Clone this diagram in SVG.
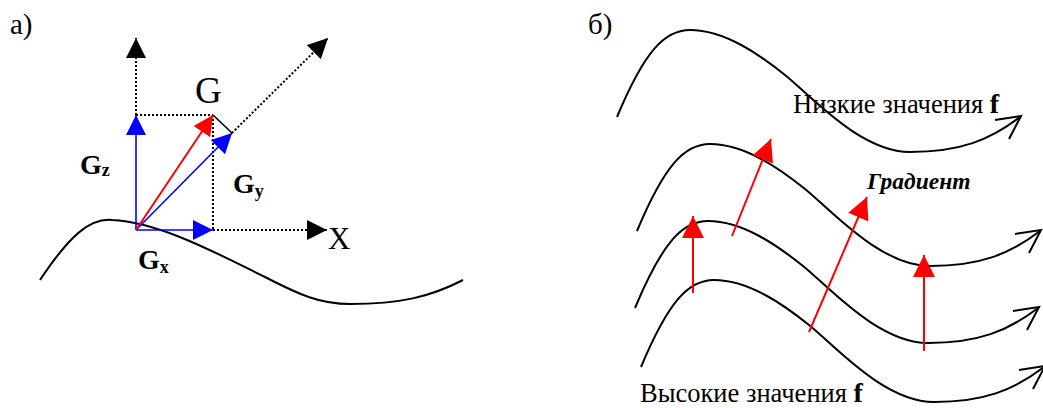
<svg xmlns="http://www.w3.org/2000/svg" width="1043" height="408" viewBox="0 0 1043 408">
<style>
.t{font-family:'Liberation Serif','Times New Roman','DejaVu Serif',serif;fill:#000}
.lbl{font-size:29px}
.bold{font-weight:bold}
.curve{fill:none;stroke:#000;stroke-width:2}
.dot{fill:none;stroke:#000;stroke-width:2;stroke-dasharray:2 2}
.blue{fill:none;stroke:#0000ff;stroke-width:1.6}
.red{fill:none;stroke:#ff0000;stroke-width:2}
.open{fill:none;stroke:#000;stroke-width:2;stroke-linejoin:miter}
</style>
<defs>
<marker id="hb" markerUnits="userSpaceOnUse" markerWidth="20" markerHeight="20" refX="20" refY="10" orient="auto" viewBox="0 0 20 20"><path d="M0,0L20,10L0,20z" fill="#0000ff"/></marker>
<marker id="hr" markerUnits="userSpaceOnUse" markerWidth="20" markerHeight="20" refX="20" refY="10" orient="auto" viewBox="0 0 20 20"><path d="M0,0L20,10L0,20z" fill="#ff0000"/></marker>
<marker id="hk" markerUnits="userSpaceOnUse" markerWidth="20" markerHeight="20" refX="20" refY="10" orient="auto" viewBox="0 0 20 20"><path d="M0,0L20,10L0,20z" fill="#000"/></marker>
<marker id="hr2" markerUnits="userSpaceOnUse" markerWidth="22" markerHeight="22" refX="22" refY="11" orient="auto" viewBox="0 0 22 22"><path d="M0,0L22,11L0,22z" fill="#ff0000"/></marker>
<path id="wave" d="M617,117 C645,50 665,30 690,30 C725,30 760,55 785,75 S860,152 910,152 S990,140 1020,117"/>
</defs>

<!-- Panel a -->
<g id="panel-a">
  <text id="label-a" class="t lbl" x="10" y="34">а)</text>
  <path id="surface-a" class="curve" d="M40,280 C70,235 90,218 112,220 C160,222 220,255 265,277 C300,295 320,304 350,304 C400,304 430,297 463,280"/>
  <g id="connectors-a">
    <line class="dot" x1="136" y1="115" x2="136" y2="38" marker-end="url(#hk)"/>
    <line class="dot" x1="213" y1="230" x2="327" y2="230" marker-end="url(#hk)"/>
    <line class="dot" x1="232" y1="133" x2="328" y2="38" marker-end="url(#hk)"/>
    <line class="dot" x1="136" y1="115" x2="213" y2="115"/>
    <line class="dot" x1="213" y1="115" x2="213" y2="230"/>
    <line x1="213" y1="115" x2="232" y2="133" stroke="#000" stroke-width="1.6"/>
    <line class="blue" x1="136" y1="230" x2="136" y2="115" marker-end="url(#hb)"/>
    <line class="blue" x1="136" y1="230" x2="213" y2="230" marker-end="url(#hb)"/>
    <line class="blue" x1="136" y1="230" x2="232" y2="133" marker-end="url(#hb)"/>
    <line class="red" x1="136" y1="230" x2="213" y2="115" marker-end="url(#hr)"/>
  </g>
  <g id="node-G"><text class="t" x="195" y="103" font-size="37">G</text></g>
  <g id="node-X"><text class="t" x="328" y="249" font-size="31">X</text></g>
  <g id="node-Gz"><text class="t bold" x="80" y="174" font-size="28">G<tspan font-size="18" dy="2">z</tspan></text></g>
  <g id="node-Gy"><text class="t bold" x="233" y="193" font-size="28">G<tspan font-size="18" dy="4">y</tspan></text></g>
  <g id="node-Gx"><text class="t bold" x="138" y="269" font-size="28">G<tspan font-size="18" dy="4">x</tspan></text></g>
</g>

<!-- Panel b -->
<g id="panel-b">
  <text id="label-b" class="t lbl" x="588" y="34">б)</text>
  <g id="isoline-1">
    <use href="#wave" class="curve"/>
    <polyline class="open" points="995,120 1021,116 1009,139"/>
  </g>
  <g id="isoline-2" transform="translate(20,114)">
    <use href="#wave" class="curve"/>
    <polyline class="open" points="995,120 1021,116 1009,139"/>
  </g>
  <g id="isoline-3" transform="translate(18,191)">
    <use href="#wave" class="curve"/>
    <polyline class="open" points="995,120 1021,116 1009,139"/>
  </g>
  <g id="isoline-4" transform="translate(24,250)">
    <use href="#wave" class="curve"/>
    <polyline class="open" points="995,120 1021,116 1009,139"/>
  </g>
  <g id="connectors-b">
    <line class="red" x1="732" y1="236" x2="771" y2="139" marker-end="url(#hr2)"/>
    <line class="red" x1="693" y1="293" x2="693" y2="216" marker-end="url(#hr2)"/>
    <line class="red" x1="809" y1="332" x2="867" y2="197" marker-end="url(#hr2)"/>
    <line class="red" x1="924" y1="351" x2="924" y2="255" marker-end="url(#hr2)"/>
  </g>
  <g id="node-low"><text class="t" x="793" y="113" font-size="26.5">Низкие значения <tspan class="bold" font-size="28">f</tspan></text></g>
  <g id="node-gradient"><text class="t" x="867" y="189" font-size="23.5" font-weight="bold" font-style="italic">Градиент</text></g>
  <g id="node-high"><text class="t" x="640" y="402" font-size="26.5">Высокие значения <tspan class="bold" font-size="28">f</tspan></text></g>
</g>
</svg>
